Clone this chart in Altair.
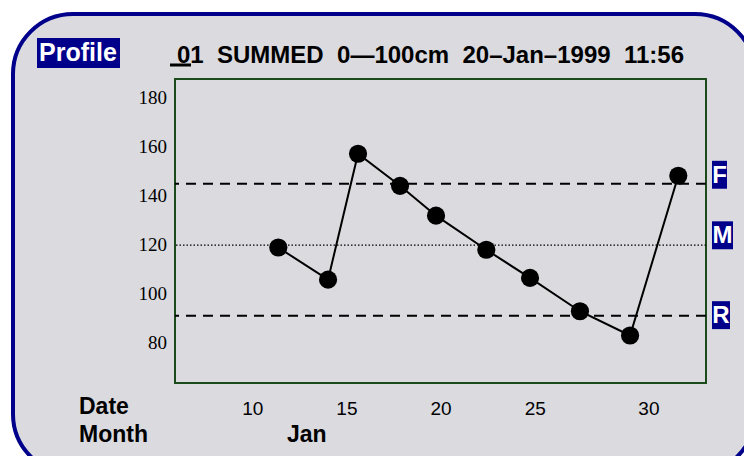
import altair as alt
import pandas as pd

# ---- data ----
days = [11.36, 14.00, 15.59, 17.82, 19.73, 22.40, 24.72, 27.37, 30.03, 32.59]
values = [119.1, 106.0, 157.4, 144.3, 132.1, 118.2, 106.7, 93.1, 83.2, 148.4]

ref_names = ["F", "M", "R"]
ref_values = [145.1, 120.1, 91.3]
ref_styles = ["dashed", "dotted", "dashed"]
label_values = [148.8, 124.1, 91.5]
label_widths = [15, 21, 18]

x_tick_pos = [10, 15, 20, 25, 31.03]
x_tick_text = ["10", "15", "20", "25", "30"]
y_ticks = [80, 100, 120, 140, 160, 180]

title_text = "01\u00a0\u00a0SUMMED\u00a0\u00a00\u2014100cm\u00a0\u00a020\u2013Jan\u20131999\u00a0\u00a011:56"

# ---- layout ----
W, H = 531, 304
NAVY = "#00008b"
GREEN = "#1b4a1b"
GREY = "#dadadf"
FONT = "Liberation Sans"

xscale = alt.Scale(domain=[5.876, 34.06], nice=False, zero=False)
yscale = alt.Scale(domain=[63.8, 187.9], nice=False, zero=False)

pts = pd.DataFrame({"day": days, "value": values})
refs = pd.DataFrame({"name": ref_names, "value": ref_values, "style": ref_styles})
ticks = pd.DataFrame({"pos": x_tick_pos, "label": x_tick_text})
yt = pd.DataFrame({"value": y_ticks, "label": [str(v) for v in y_ticks]})
one = pd.DataFrame({"k": [0]})

frame = alt.Chart(one).mark_rect(
    fill=GREY, stroke=NAVY, strokeWidth=4, cornerRadius=60
).encode(x=alt.value(-162), x2=alt.value(580), y=alt.value(-65), y2=alt.value(395))

plot_box = alt.Chart(one).mark_rect(
    fill=None, fillOpacity=0, stroke=GREEN, strokeWidth=2
).encode(x=alt.value(0), x2=alt.value(W), y=alt.value(0), y2=alt.value(H))

dashed = alt.Chart(refs).transform_filter("datum.style == 'dashed'").mark_rule(
    color="black", strokeWidth=2, strokeDash=[10, 7]
).encode(y=alt.Y("value:Q", scale=yscale, axis=None))

dotted = alt.Chart(refs).transform_filter("datum.style == 'dotted'").mark_rule(
    color="black", strokeWidth=1.2, strokeDash=[1.5, 2]
).encode(y=alt.Y("value:Q", scale=yscale, axis=None))

line = alt.Chart(pts).mark_line(color="black", strokeWidth=2).encode(
    x=alt.X("day:Q", scale=xscale, axis=None),
    y=alt.Y("value:Q", scale=yscale, axis=None),
)

points = alt.Chart(pts).mark_circle(color="black", opacity=1, size=330).encode(
    x=alt.X("day:Q", scale=xscale, axis=None),
    y=alt.Y("value:Q", scale=yscale, axis=None),
)

y_labels = alt.Chart(yt).mark_text(
    font="Liberation Serif", fontSize=19, color="black", align="right", baseline="middle"
).encode(
    x=alt.value(-8),
    y=alt.Y("value:Q", scale=yscale, axis=None),
    text="label:N",
)

tick_labels = alt.Chart(ticks).mark_text(
    font=FONT, fontSize=19, color="black", align="center", baseline="alphabetic"
).encode(
    x=alt.X("pos:Q", scale=xscale, axis=None),
    y=alt.value(H + 32),
    text="label:N",
)

layers = [frame, plot_box, dashed, dotted, line, points, y_labels, tick_labels]

# F / M / R boxes
for name, lv, w in zip(ref_names, label_values, label_widths):
    d = pd.DataFrame({"name": [name], "lo": [lv - 5.7], "hi": [lv + 5.7], "mid": [lv]})
    layers.append(
        alt.Chart(d).mark_rect(fill=NAVY).encode(
            x=alt.value(W + 6), x2=alt.value(W + 6 + w),
            y=alt.Y("hi:Q", scale=yscale, axis=None), y2="lo:Q",
        )
    )
    layers.append(
        alt.Chart(d).mark_text(
            font=FONT, fontSize=24, fontWeight="bold", color="white",
            align="center", baseline="middle", dy=1,
        ).encode(
            x=alt.value(W + 6 + w / 2),
            y=alt.Y("mid:Q", scale=yscale, axis=None),
            text="name:N",
        )
    )

# Header
layers.append(
    alt.Chart(one).mark_rect(fill=NAVY).encode(
        x=alt.value(-138), x2=alt.value(-55), y=alt.value(-41), y2=alt.value(-11)
    )
)
layers.append(
    alt.Chart(one).mark_text(
        text="Profile", font=FONT, fontSize=25, fontWeight="bold", color="white",
        align="left", baseline="alphabetic",
    ).encode(x=alt.value(-136), y=alt.value(-18))
)
layers.append(
    alt.Chart(one).mark_text(
        text=title_text, font=FONT, fontSize=24, fontWeight="bold", color="black",
        align="left", baseline="alphabetic",
    ).encode(x=alt.value(2), y=alt.value(-16))
)
layers.append(
    alt.Chart(one).mark_rule(color="black", strokeWidth=3).encode(
        x=alt.value(-5), x2=alt.value(16), y=alt.value(-14)
    )
)

# Bottom labels
for txt, xv, yv in [("Date", -96, H + 31), ("Month", -96, H + 59), ("Jan", 112, H + 59)]:
    layers.append(
        alt.Chart(one).mark_text(
            text=txt, font=FONT, fontSize=23, fontWeight="bold", color="black",
            align="left", baseline="alphabetic",
        ).encode(x=alt.value(xv), y=alt.value(yv))
    )

chart = alt.layer(*layers).properties(
    width=W, height=H,
    autosize=alt.AutoSizeParams(type="none"),
    padding={"left": 167, "top": 71, "right": 38, "bottom": 73},
).configure(background="white").configure_view(strokeWidth=0)

chart.save("out.html", embed_options={"renderer": "svg", "actions": False})
